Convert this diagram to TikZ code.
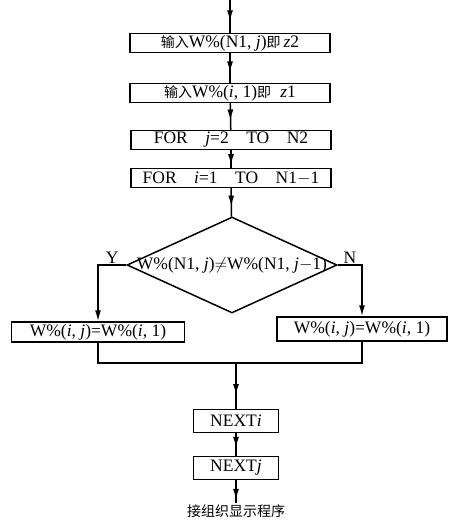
\documentclass[tikz,border=0pt]{standalone}
\usepackage{fontspec}
\setmainfont{Liberation Serif}
\newfontfamily\cjk[Scale=0.8]{Noto Sans CJK SC}
\usetikzlibrary{arrows.meta,positioning,shapes.geometric,decorations.markings}
\tikzset{
  stepbox/.style={draw,line width=1.5pt,minimum width=200pt,minimum height=19pt,
    inner sep=1pt,font=\fontsize{17.5}{19}\selectfont},
  cond/.style={draw,line width=1.5pt,diamond,aspect=2.2,inner sep=-3pt,
    minimum width=210pt,minimum height=96pt,font=\fontsize{17.5}{19}\selectfont},
  smallbox/.style={stepbox,minimum width=85pt,minimum height=23pt},
  flow/.style={line width=1.5pt,postaction={decorate},
    decoration={markings,mark=at position #1 with {\arrow{Latex[length=11pt,width=6pt]}}}},
  flow/.default=.65,
  arrow/.style={line width=1.5pt,-{Latex[length=11pt,width=6pt]}},
  branchword/.style={inner sep=1pt,font=\fontsize{17.5}{19}\selectfont}
}
\begin{document}
\begin{tikzpicture}[x=1pt,y=-1pt]
\useasboundingbox (0,0) rectangle (453,524);
\coordinate (start) at (230,0);
\node[stepbox] (inz2) at (230,43) {{\cjk 输入}W\%(N1, \textit{j}){\cjk 即}\,\textit{z}2};
\node[stepbox] (inz1) at (230,93) {{\cjk 输入}W\%(\textit{i}, 1){\cjk 即}\; \textit{z}1};
\node[stepbox] (forj) at (231,140) {FOR\quad \textit{j}=2\quad TO\quad N2};
\node[stepbox] (fori) at (231,178) {FOR\quad \textit{i}=1\quad TO\quad N1$-$1};

\node[cond] (test) at (232,265) {W\%(N1, \textit{j})$\neq$W\%(N1, \textit{j}$-$1)};

\node[stepbox,minimum width=173pt,minimum height=20pt] (same) at (98,332) {W\%(\textit{i}, \textit{j})=W\%(\textit{i}, 1)};
\node[stepbox,minimum width=170pt,minimum height=24pt] (diff) at (362,329) {W\%(\textit{i}, \textit{j})=W\%(\textit{i}, 1)};
\coordinate (merge) at (236,363);

\node[smallbox] (nexti) at (236,421) {NEXT\textit{i}};
\node[smallbox] (nextj) at (236,468) {NEXT\textit{j}};
\node[font=\fontsize{17.5}{20}\selectfont\cjk,inner sep=1pt] (show) at (236,511) {接组织显示程序};

\draw[flow] (start)--(inz2);
\draw[flow] (inz2)--(inz1);
\draw[flow] (inz1)--(forj);
\draw[flow=.85] (forj)--(fori);
\draw[flow] (fori)--(test);
\draw[arrow] (test.west)-|node[branchword,above,pos=.25]{Y}(same);
\draw[arrow] (test.east)-|node[branchword,above,pos=.25]{N}(diff);
\draw[line width=1.5pt] (same)|-(merge);
\draw[line width=1.5pt] (diff)|-(merge);
\draw[flow=.7] (merge)--(nexti);
\draw[flow] (nexti)--(nextj);
\draw[flow=.85] (nextj)--(show);
\end{tikzpicture}
\end{document}
